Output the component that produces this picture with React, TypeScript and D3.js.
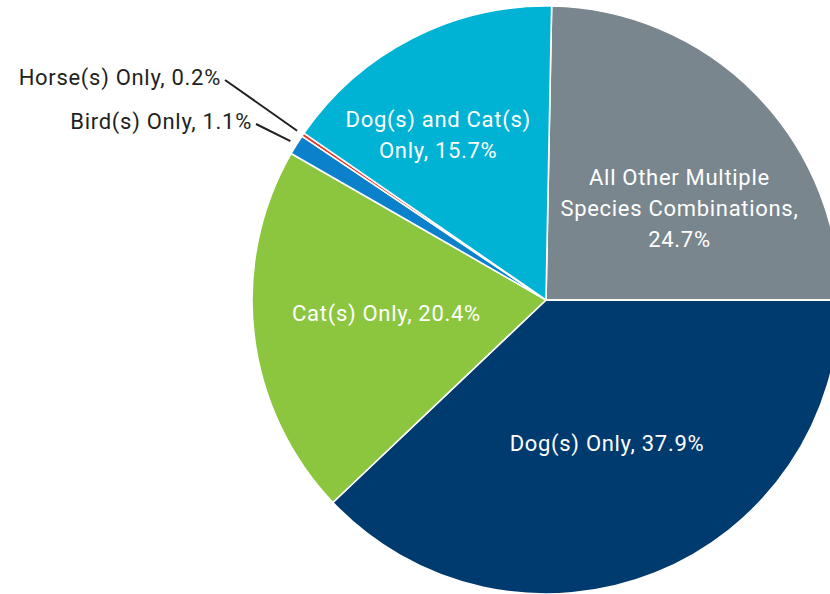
import React from "react";
import * as d3 from "d3";

const categories = [
  "All Other Multiple Species Combinations",
  "Dog(s) Only",
  "Cat(s) Only",
  "Bird(s) Only",
  "Horse(s) Only",
  "Dog(s) and Cat(s) Only",
];
const values = [24.7, 37.9, 20.4, 1.1, 0.2, 15.7];
const colors = ["#7a868d", "#003b6f", "#8cc63f", "#0b80cb", "#e2352f", "#00b3d5"];
// label lines for inside labels
const insideLines: (string[] | null)[] = [
  ["All Other Multiple", "Species Combinations,", "24.7%"],
  ["Dog(s) Only, 37.9%"],
  ["Cat(s) Only, 20.4%"],
  null,
  null,
  ["Dog(s) and Cat(s)", "Only, 15.7%"],
];
const outsideLabels: (string | null)[] = [null, null, null, "Bird(s) Only, 1.1%", "Horse(s) Only, 0.2%", null];

const W = 830;
const H = 594;
const cx = 546;
const cy = 300;
const R = 294;
const startAngle = (1.1 / 180) * Math.PI;
// layout offsets (label nudges relative to centroid)
const labelOffsets = [
  [18, 22],
  [1, -7],
  [1, -6],
  [0, 0],
  [0, 0],
  [-34, -21],
];
const leaderEnds = [
  [0, 0],
  [0, 0],
  [0, 0],
  [256, 124],
  [225, 80],
  [0, 0],
];

export default function App() {
  const pie = d3
    .pie<number>()
    .sort(null)
    .value((d) => d)
    .startAngle(startAngle)
    .endAngle(startAngle + 2 * Math.PI);
  const arcs = pie(values);
  const arc = d3.arc<d3.PieArcDatum<number>>().innerRadius(0).outerRadius(R);
  const labelArc = d3.arc<d3.PieArcDatum<number>>().innerRadius(R * 0.55).outerRadius(R * 0.55);
  const leaderArc = d3.arc<d3.PieArcDatum<number>>().innerRadius(R + 7).outerRadius(R + 7);
  const lineH = 31;
  const font = "Roboto, 'DejaVu Sans', sans-serif";
  const fs = 22;
  const ls = 0.7;

  return (
    <div style={{ position: "absolute", left: 0, top: 0, width: W, height: H, overflow: "hidden", background: "#fff" }}>
      <svg width={W} height={H} style={{ display: "block" }}>
        <g transform={`translate(${cx},${cy})`}>
          {arcs.map((a, i) => (
            <path key={i} d={arc(a) || ""} fill={colors[i]} stroke="#fff" strokeWidth={1.6} strokeLinejoin="round" />
          ))}
          {arcs.map((a, i) => {
            const lines = insideLines[i];
            if (!lines) return null;
            const [x, y] = labelArc.centroid(a);
            const ox = x + labelOffsets[i][0];
            const oy = y + labelOffsets[i][1];
            const top = oy - ((lines.length - 1) * lineH) / 2;
            return (
              <text
                key={"l" + i}
                textAnchor="middle"
                fill="#fff"
                fontFamily={font}
                fontSize={fs}
                letterSpacing={ls}
              >
                {lines.map((t, j) => (
                  <tspan key={j} x={ox} y={top + j * lineH} dy="0.35em">
                    {t}
                  </tspan>
                ))}
              </text>
            );
          })}
          {arcs.map((a, i) => {
            const label = outsideLabels[i];
            if (!label) return null;
            const [x1, y1] = leaderArc.centroid(a);
            const ex = leaderEnds[i][0] - cx;
            const ey = leaderEnds[i][1] - cy;
            return (
              <g key={"o" + i}>
                <line x1={x1} y1={y1} x2={ex} y2={ey} stroke="#231f20" strokeWidth={2} />
                <text
                  x={ex - 4}
                  y={ey - 3}
                  dy="0.35em"
                  textAnchor="end"
                  fill="#231f20"
                  fontFamily={font}
                  fontSize={fs}
                  letterSpacing={ls}
                >
                  {label}
                </text>
              </g>
            );
          })}
        </g>
      </svg>
    </div>
  );
}
